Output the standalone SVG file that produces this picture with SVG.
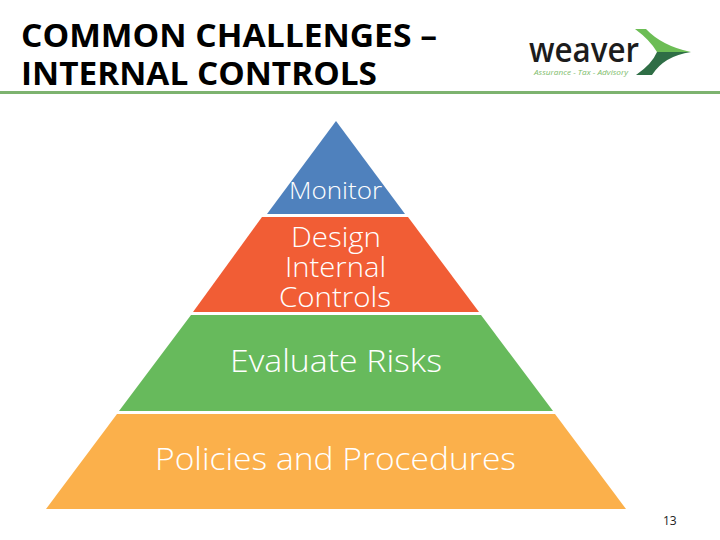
<svg xmlns="http://www.w3.org/2000/svg" width="720" height="540" viewBox="0 0 720 540">
<style>
text{font-family:"Open Sans","Noto Sans","DejaVu Sans",sans-serif}
.t{font-size:33px;font-weight:700;fill:#000}
.l{fill:#fff;font-weight:300}
</style>
<rect width="720" height="540" fill="#fff"/>
<g id="title">
<text class="t" x="21" y="47" textLength="416" lengthAdjust="spacingAndGlyphs">COMMON CHALLENGES –</text>
<text class="t" x="21" y="85" textLength="356" lengthAdjust="spacingAndGlyphs">INTERNAL CONTROLS</text>
</g>
<rect x="0" y="91" width="720" height="3" fill="#7db36f"/>
<g id="logo">
<text x="529" y="62" font-size="35" font-weight="600" fill="#1c1c1c" textLength="110" lengthAdjust="spacingAndGlyphs">weaver</text>
<text x="534" y="75" font-size="8" font-style="italic" fill="#7dbb6a" textLength="94" lengthAdjust="spacingAndGlyphs">Assurance - Tax - Advisory</text>
<path d="M635 29H646Q662 46 691 52H657Q650 40 635 29Z" fill="#6cbd55"/>
<path d="M657 52H691Q664 56 652 75H636Q652 64 657 52Z" fill="#2f6e46"/>
</g>
<g id="monitor">
<path d="M336 121L405 214H267Z" fill="#4f81bd"/>
<text class="l" x="289" y="199" font-size="24" textLength="93" lengthAdjust="spacingAndGlyphs">Monitor</text>
</g>
<g id="design">
<path d="M262 217H408L479 312H193Z" fill="#f15d35"/>
<text class="l" x="291" y="247" font-size="28" textLength="90" lengthAdjust="spacingAndGlyphs">Design</text>
<text class="l" x="285" y="277" font-size="28" textLength="101" lengthAdjust="spacingAndGlyphs">Internal</text>
<text class="l" x="279" y="307" font-size="28" textLength="112" lengthAdjust="spacingAndGlyphs">Controls</text>
</g>
<g id="risks">
<path d="M191 315H481L553 411H119Z" fill="#67ba5c"/>
<text class="l" x="230" y="372" font-size="31" textLength="212" lengthAdjust="spacingAndGlyphs">Evaluate Risks</text>
</g>
<g id="policies">
<path d="M117 414H555L626 509H46Z" fill="#fbb04b"/>
<text class="l" x="155" y="470" font-size="31" textLength="361" lengthAdjust="spacingAndGlyphs">Policies and Procedures</text>
</g>
<text x="663" y="525" font-size="12" fill="#222">13</text>
</svg>
